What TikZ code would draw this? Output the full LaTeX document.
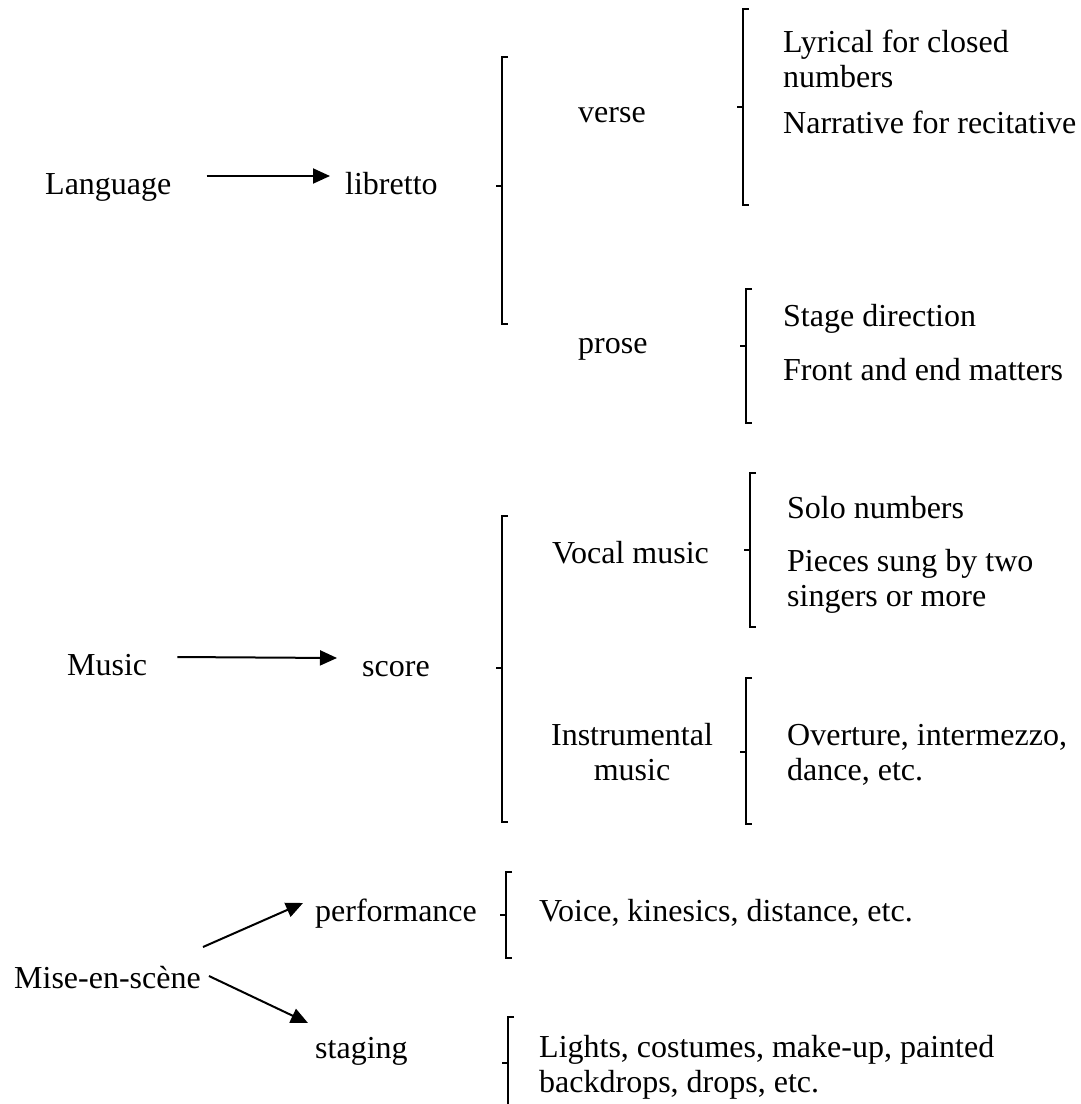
\documentclass[tikz,border=0pt]{standalone}
\usepackage{fontspec}
\setmainfont{Liberation Serif}
\usetikzlibrary{arrows.meta}
\newcommand\mybrace[4]{%
  \draw[bracestyle] (#1+6,#2) -- (#1,#2) -- (#1,#4) -- (#1+6,#4);
  \draw[bracestyle] (#1,#3) -- (#1-6,#3);}
\begin{document}
\begin{tikzpicture}[x=1pt,y=-1pt,
  txt/.style={font=\fontsize{32}{35}\selectfont, inner sep=0pt, anchor=base west},
  arr/.style={line width=2pt, -{Triangle[length=17pt,width=15pt]}},
  bracestyle/.style={line width=2.2pt, line cap=butt}]
\useasboundingbox[fill=white] (0,0) rectangle (1081,1104);

% Language
\node[txt] (lang) at (45,194) {Language};
\node[txt] (lib) at (345,194) {libretto};
\node[txt] (verse) at (578,122) {verse};
\node[txt, align=left] (lyr) at (783,87) {Lyrical for closed\\numbers};
\node[txt] (narr) at (783,133) {Narrative for recitative};
\node[txt] (prose) at (578,353) {prose};
\node[txt] (stage) at (783,326) {Stage direction};
\node[txt] (front) at (783,380) {Front and end matters};

% Music
\node[txt] (music) at (67,675) {Music};
\node[txt] (score) at (362,676) {score};
\node[txt] (vocal) at (552,563) {Vocal music};
\node[txt] (solo) at (787,518) {Solo numbers};
\node[txt, align=left] (pieces) at (787,606) {Pieces sung by two\\singers or more};
\node[txt, align=center, anchor=base] (instr) at (632,780) {Instrumental\\music};
\node[txt, align=left] (over) at (787,780) {Overture, intermezzo,\\dance, etc.};

% Mise-en-scene
\node[txt] (mise) at (14,988) {Mise-en-scène};
\node[txt] (perf) at (315,921) {performance};
\node[txt] (voice) at (539,921) {Voice, kinesics, distance, etc.};
\node[txt] (staging) at (315,1058) {staging};
\node[txt, align=left] (lights) at (539,1092) {Lights, costumes, make-up, painted\\backdrops, drops, etc.};

% arrows
\draw[arr] ([shift={(35,-18)}]lang.base east) -- ([shift={(-15,-18)}]lib.base west);
\draw[arr] ([shift={(30,-18)}]music.base east) -- ([shift={(-25,-18)}]score.base west);
\draw[arr] ([shift={(2,-41)}]mise.base east) -- ([shift={(-12,-18)}]perf.base west);
\draw[arr] ([shift={(8,-12)}]mise.base east) -- ([shift={(-7,-35)}]staging.base west);

% braces
\mybrace{502}{57}{186}{324}
\mybrace{743}{9}{107}{205}
\mybrace{746}{289}{346}{423}
\mybrace{502}{516}{668}{822}
\mybrace{750}{473}{550}{627}
\mybrace{746}{678}{752}{824}
\mybrace{506}{872}{915}{958}
\mybrace{508}{1017}{1063}{1112}
\end{tikzpicture}
\end{document}
